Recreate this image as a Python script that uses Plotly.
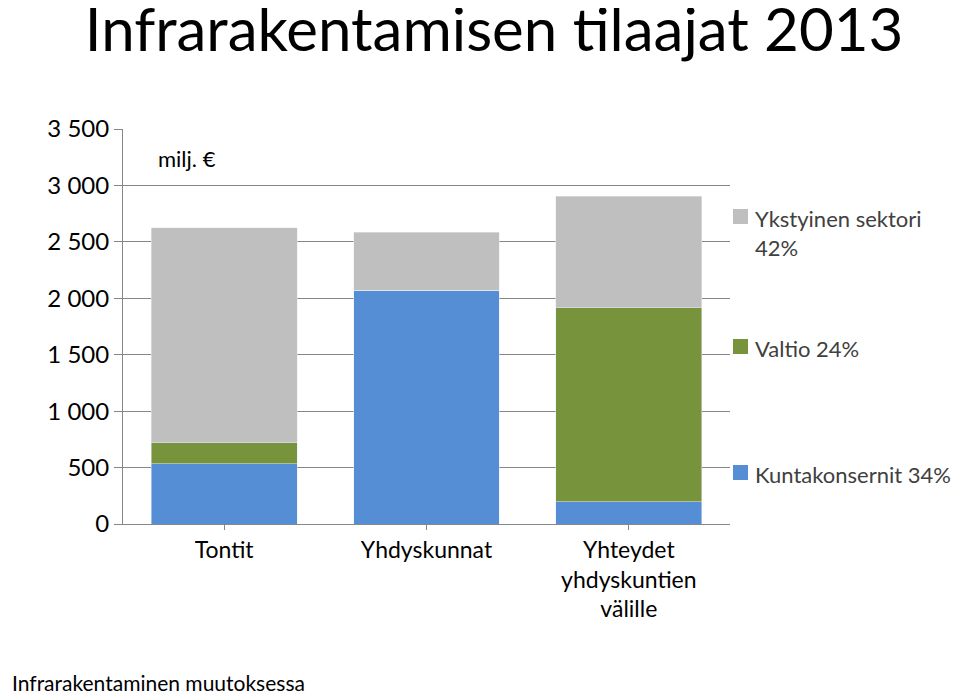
import plotly.graph_objects as go

categories = ["Tontit", "Yhdyskunnat", "Yhteydet<br>yhdyskuntien<br>välille"]
kunta = [532, 2073, 195]
valtio = [186, 0, 1719]
yksit = [1905, 514, 992]
series = [("Kuntakonsernit 34%", kunta, "#558ED5"),
          ("Valtio 24%", valtio, "#77933C"),
          ("Ykstyinen sektori<br>42%", yksit, "#BFBFBF")]
tickvals = [0, 500, 1000, 1500, 2000, 2500, 3000, 3500]
ticktext = ["0", "500", "1 000", "1 500", "2 000", "2 500", "3 000", "3 500"]

F = "Lato"
fig = go.Figure()
for name, vals, col in series:
    fig.add_bar(x=categories, y=vals, name=name, marker_color=col, width=0.72, showlegend=False)

W, H = 960, 697
L, R, T, B = 115, 238, 121, 181
pw, ph = W - L - R, H - T - B
Y0 = 8  # vertical offset correction
def px(x): return (x - L) / pw
def py(y): return (H - B - (y - Y0)) / ph

leg = [("Ykstyinen sektori<br>42%", "#BFBFBF", 216), ("Valtio 24%", "#77933C", 346), ("Kuntakonsernit 34%", "#558ED5", 472)]
for txt, col, y in leg:
    fig.add_shape(type="rect", xref="paper", yref="paper", x0=px(725), x1=px(740), y0=py(y + 8), y1=py(y - 7),
                  fillcolor=col, line_width=0)
    fig.add_annotation(xref="paper", yref="paper", x=px(745), y=py(y - 13), text=txt, showarrow=False,
                       xanchor="left", yanchor="top", align="left", font=dict(size=22, family=F, color="#404040"))

fig.add_annotation(xref="paper", yref="paper", x=px(148), y=py(143), text="milj. €", showarrow=False,
                   xanchor="left", yanchor="top", font=dict(size=22, family=F, color="#000"))
fig.add_annotation(xref="paper", yref="paper", x=px(2), y=py(668), text="Infrarakentaminen muutoksessa", showarrow=False,
                   xanchor="left", yanchor="top", font=dict(size=21, family=F, color="#000"))

fig.update_layout(
    width=W, height=H, barmode="stack", plot_bgcolor="white", paper_bgcolor="white",
    margin=dict(l=L, r=R, t=T, b=B),
    title=dict(text="Infrarakentamisen tilaajat 2013", x=0.08, xanchor="left", y=0.998, yanchor="top",
               font=dict(size=60, family=F, color="#000")),
    xaxis=dict(showline=True, linecolor="#868686", tickfont=dict(size=23, family=F, color="#000"), ticks="outside",
               tickcolor="#868686"),
    yaxis=dict(range=[0, 3500], tickvals=tickvals, ticktext=ticktext, showgrid=True, gridcolor="#868686",
               showline=True, linecolor="#868686", ticks="outside", tickcolor="#868686", ticklen=8,
               tickfont=dict(size=24, family=F, color="#000")),
    font=dict(family=F),
)
fig.write_html("out.html")
